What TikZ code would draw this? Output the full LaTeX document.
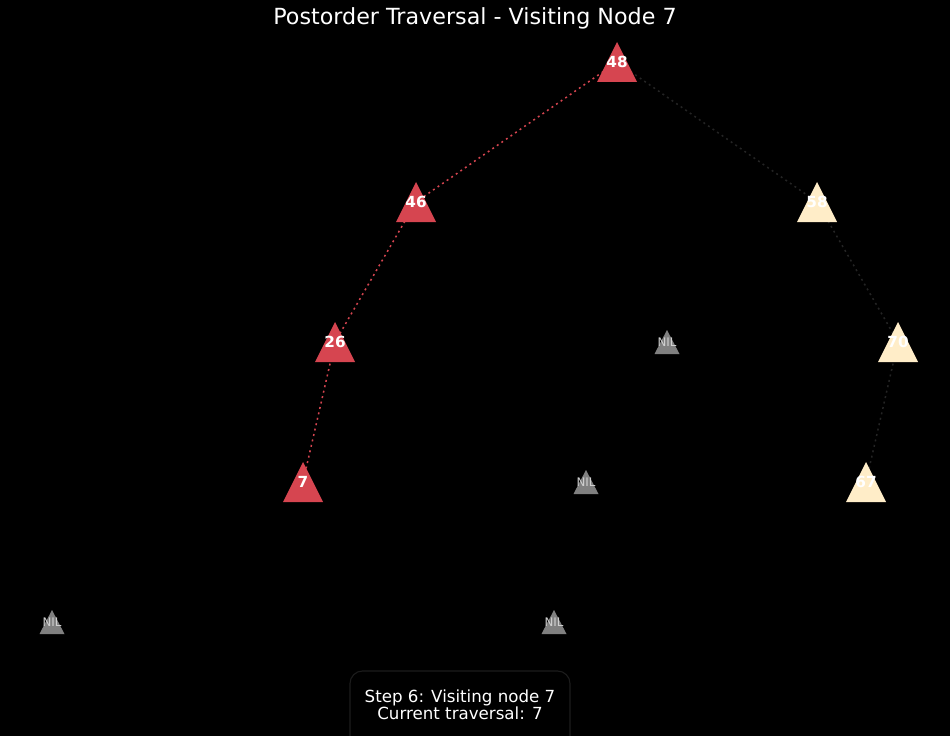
\documentclass[tikz,border=0pt]{standalone}
\usepackage{fontspec}
\setmainfont{DejaVu Sans}
\definecolor{nodered}{HTML}{D64550}
\definecolor{nodecream}{HTML}{FFEDC8}
\definecolor{nilgray}{HTML}{808080}
\definecolor{niltext}{HTML}{D0D0D0}
\definecolor{darkedge}{HTML}{242424}
\definecolor{boxedge}{HTML}{1C1C1C}
\begin{document}
\begin{tikzpicture}[x=0.72pt,y=-0.72pt,
  bigtri/.pic={\fill (0,-20) -- (-20,20) -- (20,20) -- cycle;},
  niltri/.pic={\fill (0,-12) -- (-12.5,12) -- (12.5,12) -- cycle;},
  lbl/.style={text=white,font=\fontsize{11}{13}\selectfont\bfseries,inner sep=0pt},
  nillbl/.style={text=niltext,font=\fontsize{8.5}{10}\selectfont,inner sep=0pt},
  redge/.style={nodered,line width=1.1pt,dash pattern=on 1.4pt off 2.6pt},
  dedge/.style={darkedge,line width=1.1pt,dash pattern=on 1.4pt off 2.6pt},
  infobox/.style={draw=boxedge,fill=black,line width=0.8pt,rounded corners=9pt}]
\useasboundingbox (0,0) rectangle (950,736);
\fill[black] (0,0) rectangle (950,736);
% positions
\coordinate (c48) at (617,62);
\coordinate (c46) at (416,202);
\coordinate (c58) at (817,202);
\coordinate (c26) at (335,342);
\coordinate (cnilA) at (667,342);
\coordinate (c70) at (898,342);
\coordinate (c7) at (303,482);
\coordinate (cnilB) at (586,482);
\coordinate (c67) at (866,482);
\coordinate (cnilC) at (52,622);
\coordinate (cnilD) at (554,622);
% edges
\draw[redge] (c48) -- (c46);
\draw[redge] (c46) -- (c26);
\draw[redge] (c26) -- (c7);
\draw[dedge] (c48) -- (c58);
\draw[dedge] (c58) -- (c70);
\draw[dedge] (c70) -- (c67);
% triangles
\pic[fill=nodered] at (c48) {bigtri};
\pic[fill=nodered] at (c46) {bigtri};
\pic[fill=nodered] at (c26) {bigtri};
\pic[fill=nodered] at (c7) {bigtri};
\pic[fill=nodecream] at (c58) {bigtri};
\pic[fill=nodecream] at (c70) {bigtri};
\pic[fill=nodecream] at (c67) {bigtri};
\pic[fill=nilgray] at (cnilA) {niltri};
\pic[fill=nilgray] at (cnilB) {niltri};
\pic[fill=nilgray] at (cnilC) {niltri};
\pic[fill=nilgray] at (cnilD) {niltri};
% labels
\node[lbl] (n48) at (c48) {48};
\node[lbl] (n46) at (c46) {46};
\node[lbl] (n58) at (c58) {58};
\node[lbl] (n26) at (c26) {26};
\node[lbl] (n70) at (c70) {70};
\node[lbl] (n7) at (c7) {7};
\node[lbl] (n67) at (c67) {67};
\node[nillbl] (nilA) at (cnilA) {NIL};
\node[nillbl] (nilB) at (cnilB) {NIL};
\node[nillbl] (nilC) at (cnilC) {NIL};
\node[nillbl] (nilD) at (cnilD) {NIL};
% title
\node[text=white,font=\fontsize{16}{19}\selectfont] (title) at (475,18) {Postorder Traversal - Visiting Node 7};
% info box
\draw[infobox] (350,671) rectangle (570,760);
\node[text=white,font=\fontsize{12}{12.5}\selectfont,align=center] (info) at (460,704.5) {Step 6: Visiting node 7\\Current traversal: 7};
\end{tikzpicture}
\end{document}
